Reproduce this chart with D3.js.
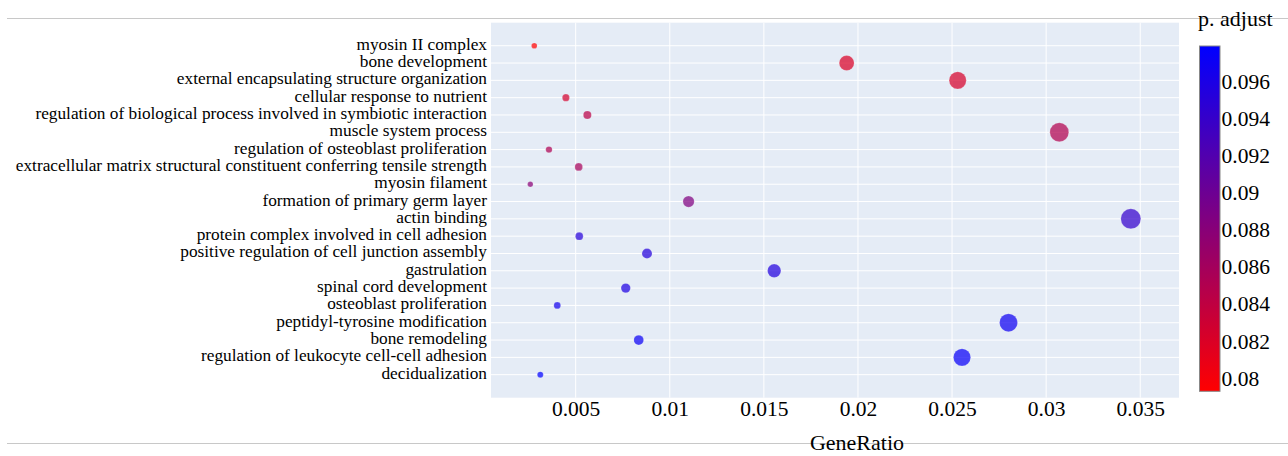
<!DOCTYPE html>
<html>
<head>
<meta charset="utf-8">
<script src="https://cdn.jsdelivr.net/npm/d3@7"></script>
<style>
  body { margin: 0; background: #fff; }
  svg, svg text { font-family: "Liberation Serif", "Times New Roman", serif !important; }
  svg { display: block; }
</style>
</head>
<body>
<div id="my_dataviz"></div>
<script>
// terms, top to bottom
var terms = [
    "myosin II complex",
    "bone development",
    "external encapsulating structure organization",
    "cellular response to nutrient",
    "regulation of biological process involved in symbiotic interaction",
    "muscle system process",
    "regulation of osteoblast proliferation",
    "extracellular matrix structural constituent conferring tensile strength",
    "myosin filament",
    "formation of primary germ layer",
    "actin binding",
    "protein complex involved in cell adhesion",
    "positive regulation of cell junction assembly",
    "gastrulation",
    "spinal cord development",
    "osteoblast proliferation",
    "peptidyl-tyrosine modification",
    "bone remodeling",
    "regulation of leukocyte cell-cell adhesion",
    "decidualization"
];

var geneRatio = [
    0.0028, 0.0194, 0.0253, 0.00448, 0.00562,
    0.0307, 0.00358, 0.00516, 0.00259, 0.0110,
    0.0345, 0.00519, 0.00879, 0.01555, 0.00766,
    0.00402, 0.0280, 0.00835, 0.02553, 0.00312
];

var pAdjust = [
    0.0793, 0.0821, 0.0823, 0.0826, 0.0843,
    0.0849, 0.0853, 0.0858, 0.0879, 0.0886,
    0.0942, 0.0951, 0.0953, 0.0955, 0.0958,
    0.0966, 0.0969, 0.0971, 0.0973, 0.0979
];

var xTicks = [0.005, 0.01, 0.015, 0.02, 0.025, 0.03, 0.035];
var xTickLabels = ["0.005", "0.01", "0.015", "0.02", "0.025", "0.03", "0.035"];
var cbTicks = [0.08, 0.082, 0.084, 0.086, 0.088, 0.09, 0.092, 0.094, 0.096];
var cbTickLabels = ["0.08", "0.082", "0.084", "0.086", "0.088", "0.09", "0.092", "0.094", "0.096"];

var W = 1288, H = 456;
var plot = {left: 491, right: 1179, top: 22.7, bottom: 397.7};
var cb = {left: 1199.5, right: 1220, top: 46, bottom: 391.3};
var serif = "'Liberation Serif', 'Times New Roman', serif";

var svg = d3.select("#my_dataviz")
    .append("svg")
    .attr("width", W)
    .attr("height", H);

// page separator lines
svg.append("line").attr("x1", 7).attr("x2", W).attr("y1", 18.5).attr("y2", 18.5)
    .attr("stroke", "#c8c8c8").attr("stroke-width", 1);
svg.append("line").attr("x1", 7).attr("x2", W).attr("y1", 443.5).attr("y2", 443.5)
    .attr("stroke", "#c8c8c8").attr("stroke-width", 1);

var x = d3.scaleLinear()
    .domain([0.0005, 0.03706])
    .range([plot.left, plot.right]);

var y = d3.scalePoint()
    .domain(terms)
    .range([plot.top, plot.bottom])
    .padding(1.33);

var pMin = d3.min(pAdjust), pMax = d3.max(pAdjust);
var color = d3.scaleLinear()
    .domain([pMin, pMax])
    .range(["#ff0000", "#0000ff"])
    .interpolate(d3.interpolateRgb);

var r = d3.scaleSqrt()
    .domain([0, d3.max(geneRatio)])
    .range([0, 10]);

// plot background
svg.append("rect")
    .attr("x", plot.left).attr("y", plot.top)
    .attr("width", plot.right - plot.left)
    .attr("height", plot.bottom - plot.top)
    .attr("fill", "#e5ecf6");

// grid
svg.append("g")
    .selectAll("line")
    .data(xTicks)
    .enter().append("line")
    .attr("x1", function(d) { return x(d); })
    .attr("x2", function(d) { return x(d); })
    .attr("y1", plot.top).attr("y2", plot.bottom)
    .attr("stroke", "#fff").attr("stroke-width", 1);

svg.append("g")
    .selectAll("line")
    .data(terms)
    .enter().append("line")
    .attr("x1", plot.left).attr("x2", plot.right)
    .attr("y1", function(d) { return y(d); })
    .attr("y2", function(d) { return y(d); })
    .attr("stroke", "#fff").attr("stroke-width", 1);

// y axis labels
var yAxis = svg.append("g")
    .attr("transform", "translate(" + plot.left + ",0)")
    .call(d3.axisLeft(y).tickSize(0).tickPadding(4));
yAxis.attr("font-family", serif).attr("font-size", 17.3);
yAxis.select(".domain").remove();
yAxis.selectAll("text").attr("fill", "#000").attr("dy", "0.2em");

// x axis labels
var xAxis = svg.append("g")
    .attr("transform", "translate(0," + plot.bottom + ")")
    .call(d3.axisBottom(x).tickValues(xTicks)
        .tickFormat(function(d, i) { return xTickLabels[i]; })
        .tickSize(0).tickPadding(3.5));
xAxis.attr("font-family", serif).attr("font-size", 21.5);
xAxis.select(".domain").remove();
xAxis.selectAll("text").attr("fill", "#000");

svg.append("text")
    .attr("x", 857).attr("y", 449.5)
    .attr("text-anchor", "middle")
    .attr("font-family", serif)
    .attr("font-size", 22)
    .text("GeneRatio");

// points
var pts = terms.map(function(t, i) {
    return {term: t, gr: geneRatio[i], p: pAdjust[i]};
});
svg.append("g")
    .selectAll("circle")
    .data(pts)
    .enter().append("circle")
    .attr("cx", function(d) { return x(d.gr); })
    .attr("cy", function(d) { return y(d.term); })
    .attr("r", function(d) { return r(d.gr); })
    .attr("fill", function(d) { return color(d.p); })
    .attr("fill-opacity", 0.72)
    .attr("stroke", "#fff")
    .attr("stroke-opacity", 0.3)
    .attr("stroke-width", 0.5);

// colorbar
var defs = svg.append("defs");
var grad = defs.append("linearGradient")
    .attr("id", "cbgrad")
    .attr("x1", 0).attr("y1", 1).attr("x2", 0).attr("y2", 0);
d3.range(0, 1.0001, 0.1).forEach(function(t) {
    grad.append("stop").attr("offset", t).attr("stop-color", color(pMin + t * (pMax - pMin)));
});

svg.append("rect")
    .attr("x", cb.left).attr("y", cb.top)
    .attr("width", cb.right - cb.left)
    .attr("height", cb.bottom - cb.top)
    .attr("fill", "url(#cbgrad)")
    .attr("stroke", "#888")
    .attr("stroke-width", 1);

var cbScale = d3.scaleLinear()
    .domain([pMin, pMax])
    .range([cb.bottom, cb.top]);

var cbAxis = svg.append("g")
    .attr("transform", "translate(" + cb.right + ",0)")
    .call(d3.axisRight(cbScale).tickValues(cbTicks)
        .tickFormat(function(d, i) { return cbTickLabels[i]; })
        .tickSize(0).tickPadding(1.5));
cbAxis.attr("font-family", serif).attr("font-size", 21.5);
cbAxis.select(".domain").remove();
cbAxis.selectAll("text").attr("fill", "#000");

svg.append("text")
    .attr("x", 1198).attr("y", 26)
    .attr("font-family", serif)
    .attr("font-size", 22)
    .text("p. adjust");
</script>
</body>
</html>
